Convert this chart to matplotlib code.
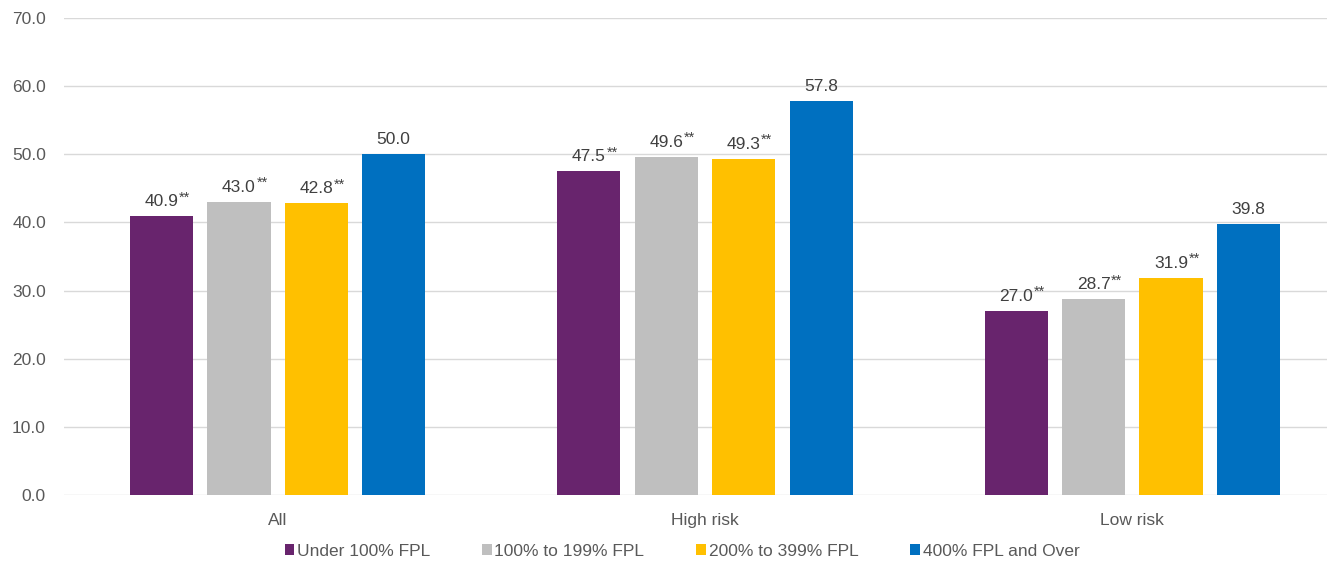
import matplotlib
matplotlib.use("Agg")
import matplotlib.pyplot as plt
import numpy as np

plt.rcParams['font.family'] = ['Liberation Sans', 'DejaVu Sans']

categories = ["All", "High risk", "Low risk"]
series_names = ["Under 100% FPL", "100% to 199% FPL", "200% to 399% FPL", "400% FPL and Over"]
under_100 = [40.9, 47.5, 27.0]
from_100_to_199 = [43.0, 49.6, 28.7]
from_200_to_399 = [42.8, 49.3, 31.9]
over_400 = [50.0, 57.8, 39.8]
significant = [True, True, True, False]
yticks = [0, 10, 20, 30, 40, 50, 60, 70]

colors = ["#68246D", "#BFBFBF", "#FFC000", "#0070C0"]
series = [under_100, from_100_to_199, from_200_to_399, over_400]

W, H = 1327, 563
fig = plt.figure(figsize=(W / 100, H / 100), dpi=100)
ax = fig.add_axes([64 / W, 68 / H, (1346 - 64) / W, (495 - 18) / H])

x = np.arange(len(categories))
step = 0.181
width = 0.1475
text_color = "#595959"
fs = 12.5

labels = []
for i, (vals, col, name, sig) in enumerate(zip(series, colors, series_names, significant)):
    pos = x + (i - 1.5) * step
    ax.bar(pos, vals, width=width, color=col, label=name, zorder=3)
    for px, v in zip(pos, vals):
        t = ax.annotate(f"{v:.1f}", xy=(px, v), xytext=(0, 5), textcoords="offset points",
                        ha="center", va="bottom", fontsize=fs, color="#404040")
        labels.append((t, sig))

ax.set_ylim(0, 70)
ax.set_xlim(-0.5, 2.5)
ax.set_yticks(yticks)
ax.set_yticklabels([f"{v:.1f}" for v in yticks])
ax.set_xticks(x)
ax.set_xticklabels(categories)
ax.tick_params(axis="both", length=0, labelsize=fs, colors=text_color)
ax.tick_params(axis="x", pad=13)
ax.tick_params(axis="y", pad=13)
ax.grid(axis="y", color="#D9D9D9", linewidth=1, zorder=0)
for s in ax.spines.values():
    s.set_visible(False)

fig.canvas.draw()
renderer = fig.canvas.get_renderer()
for t, sig in labels:
    if not sig:
        continue
    bb = t.get_window_extent(renderer)
    fx, fy = bb.x1, bb.y1
    fig.text(fx / W + 0.5 / W, fy / H - 10 / H, "**", fontsize=10.5, color="#404040",
             ha="left", va="bottom", transform=fig.transFigure)

leg = fig.legend(loc="center", bbox_to_anchor=(682 / W, 1 - 551 / H), ncol=4, frameon=False,
                 fontsize=fs, handlelength=0.55, handleheight=0.6, handletextpad=0.15,
                 columnspacing=3.0, labelcolor=text_color)

fig.savefig("out.png", dpi=100)
